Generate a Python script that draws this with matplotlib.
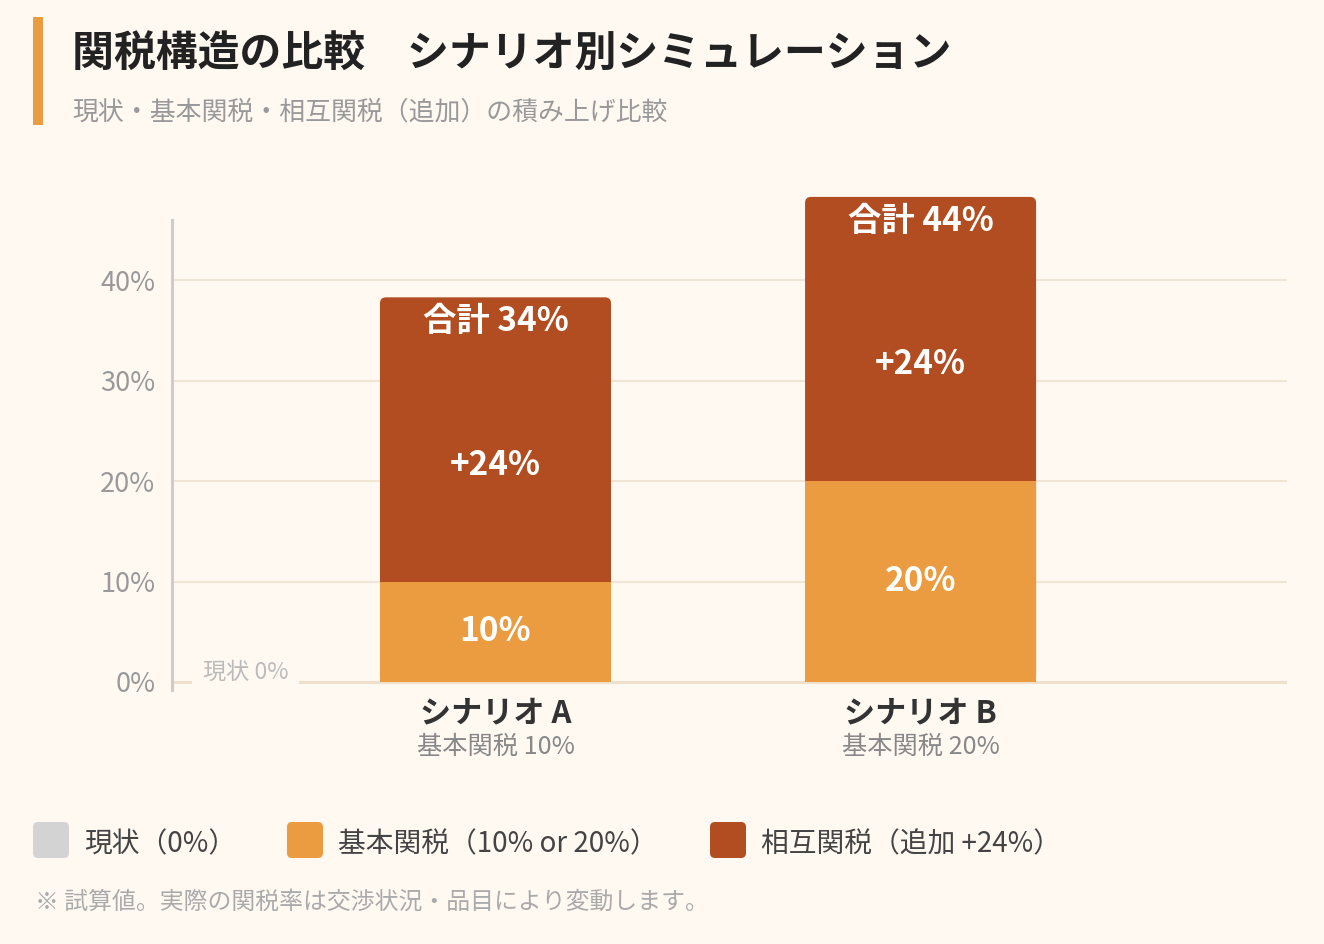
import matplotlib.pyplot as plt
import numpy as np
from matplotlib.patches import FancyBboxPatch, Rectangle
from matplotlib.transforms import IdentityTransform

plt.rcParams['font.family'] = ['Noto Sans CJK JP', 'DejaVu Sans']

# data
scenarios = ['シナリオ A', 'シナリオ B']
scenario_notes = ['基本関税 10%', '基本関税 20%']
current = [0, 0]
base = [10, 20]
reciprocal = [24, 24]
totals = [b + r for b, r in zip(base, reciprocal)]
y_ticks = [0, 10, 20, 30, 40]
legend_labels = ['現状（0%）', '基本関税（10% or 20%）', '相互関税（追加 +24%）']

BG = '#FFF9F2'
C_NOW = '#D3D3D3'
C_BASE = '#EB9B40'
C_RECIP = '#B14D20'
GRID = '#F0E4D4'

W, H = 1324, 944
fig = plt.figure(figsize=(W / 100, H / 100), dpi=100, facecolor=BG)


def fx(px):
    return px / W


def fy(py):
    return 1 - py / H


# axes placed so the plot area matches the reference pixel box
ax_left, ax_right, ax_top, ax_bot = 172, 1287, 220, 690
ax = fig.add_axes([fx(ax_left), fy(ax_bot), (ax_right - ax_left) / W, (ax_bot - ax_top) / H])
ax.set_facecolor(BG)

x = np.arange(len(scenarios))
bar_w = 0.5435
cap = 4.3  # room on top of each bar for the total label
xlim = (-0.761, 1.862)
ylim = (-0.8, 46)
ax.set_xlim(*xlim)
ax.set_ylim(*ylim)

for v in y_ticks[1:]:
    ax.axhline(v, color=GRID, lw=1.5, zorder=0)
ax.axhline(0, color='#EFE0CC', lw=2.2, zorder=0)

for s in ['top', 'right', 'bottom']:
    ax.spines[s].set_visible(False)
ax.spines['left'].set_color('#CCCCCC')
ax.spines['left'].set_linewidth(2.2)
ax.set_xticks([])
ax.set_yticks(y_ticks)
ax.set_yticklabels([f'{v}%' for v in y_ticks])
ax.tick_params(axis='y', length=0, pad=12, labelsize=19.5, labelcolor='#999999')

# rounded top for the reciprocal segment
px_x = (ax_right - ax_left) / (xlim[1] - xlim[0])
px_y = (ax_bot - ax_top) / (ylim[1] - ylim[0])
r = 6 / px_x
for xi, t in zip(x, totals):
    box = FancyBboxPatch((xi - bar_w / 2, 0), bar_w, t + cap,
                         boxstyle=f'round,pad=0,rounding_size={r}',
                         mutation_aspect=px_x / px_y, clip_on=False,
                         facecolor=C_RECIP, edgecolor='none', zorder=2)
    ax.add_patch(box)
ax.bar(x, base, width=bar_w, color=C_BASE, zorder=3)

lab = dict(color='white', fontsize=24, fontweight='bold', ha='center', va='center',
           zorder=5, textcoords='offset pixels', annotation_clip=False)
for xi, b, rc, t in zip(x, base, reciprocal, totals):
    ax.annotate(f'{b}%', (xi, b / 2), xytext=(0, 0), **lab)
    ax.annotate(f'+{rc}%', (xi, b + rc / 2), xytext=(0, -4), **lab)
    ax.annotate(f'合計 {t}%', (xi, t + cap / 2), xytext=(0, -3), **lab)

for xi, name, note in zip(x, scenarios, scenario_notes):
    ax.annotate(name, (xi, 0), xytext=(0, -31), textcoords='offset pixels',
                ha='center', va='center', fontsize=22.4, fontweight='bold',
                color='#333333', annotation_clip=False)
    ax.annotate(note, (xi, 0), xytext=(0, -65), textcoords='offset pixels',
                ha='center', va='center', fontsize=18.2, color='#888888',
                annotation_clip=False)

# current status marker at the baseline
ax.text(-0.588, current[0] + 1.0, f'現状 {current[0]}%', ha='center', va='center',
        fontsize=16.7, color='#BBBBBB', zorder=4,
        bbox=dict(boxstyle='square,pad=0.45', facecolor=BG, edgecolor='none'))

# header
fig.patches.append(Rectangle((33, H - 125), 10, 108, transform=IdentityTransform(),
                             facecolor=C_BASE, edgecolor='none'))
fig.text(fx(72), fy(55), '関税構造の比較　シナリオ別シミュレーション', fontsize=30.2,
         fontweight='bold', color='#222222', va='center', ha='left')
fig.text(fx(72), fy(112), '現状・基本関税・相互関税（追加）の積み上げ比較', fontsize=18.65,
         color='#999999', va='center', ha='left')

# legend
legend_colors = [C_NOW, C_BASE, C_RECIP]
legend_x = [33, 287, 710]
for lx, c, t in zip(legend_x, legend_colors, legend_labels):
    fig.patches.append(FancyBboxPatch((lx, H - 858), 36, 36,
                                      boxstyle='round,pad=0,rounding_size=5',
                                      transform=IdentityTransform(),
                                      facecolor=c, edgecolor='none'))
    fig.text(fx(lx + 51), fy(844), t, fontsize=20, color='#444444', va='center', ha='left')

fig.text(fx(35), fy(902), '※ 試算値。実際の関税率は交渉状況・品目により変動します。',
         fontsize=17.2, color='#AAAAAA', va='center', ha='left')

fig.savefig('out.png', dpi=100, facecolor=BG)
